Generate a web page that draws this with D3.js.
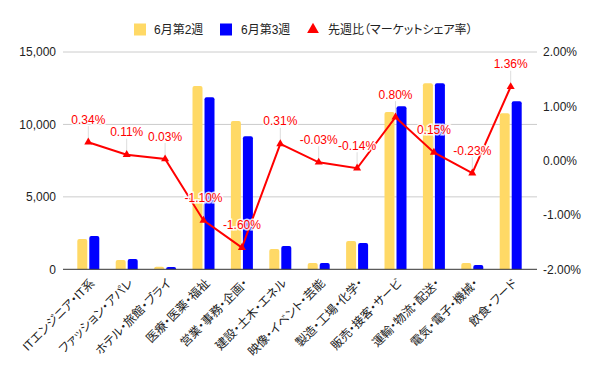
<!DOCTYPE html>
<html>
<head>
<meta charset="utf-8">
<script src="https://cdn.jsdelivr.net/npm/d3@7"></script>
<style>
  body { margin: 0; background: #fff; }
  svg { font-family: "Liberation Sans", Arial, "Noto Sans CJK JP", sans-serif; font-feature-settings: "palt"; }
</style>
</head>
<body>
<div id="chart"></div>
<script>
// categories
const categories = [
    'ITエンジニア・IT系', 'ファッション・アパレ', 'ホテル・旅館・ブライ', '医療・医薬・福祉',
    '営業・事務・企画・', '建設・土木・エネル', '映像・イベント・芸能', '製造・工場・化学・',
    '販売・接客・サービ', '運輸・物流・配送・', '電気・電子・機械・', '飲食・フード'
];

// series values
const week2 = [2090, 640, 170, 12660, 10230, 1400, 435, 1950, 10850, 12850, 430, 10780];
const week3 = [2300, 710, 160, 11880, 9190, 1610, 430, 1810, 11260, 12850, 300, 11600];
const shareChange = [0.34, 0.11, 0.03, -1.10, -1.60, 0.31, -0.03, -0.14, 0.80, 0.15, -0.23, 1.36];

// tick labels
const leftTicks = [0, 5000, 10000, 15000];
const rightTicks = [-2, -1, 0, 1, 2];

const seriesNames = ['6月第2週', '6月第3週', '先週比（マーケットシェア率）'];

const width = 600;
const height = 371;
const plot = { left: 63, right: 537, top: 52, bottom: 269.3 };

const colorWeek2 = '#ffd966';
const colorWeek3 = '#0000ff';
const colorLine = '#ff0000';

const svg = d3.select('#chart')
    .append('svg')
    .attr('width', width)
    .attr('height', height);

// Scales
const x = d3.scaleBand().domain(categories).range([69.1, 529.9]);
const yLeft = d3.scaleLinear().domain([0, 15000]).range([plot.bottom, plot.top]);
const yRight = d3.scaleLinear().domain([-2, 2]).range([plot.bottom, plot.top]);

// Grid lines
svg.append('g')
    .selectAll('line')
    .data(leftTicks.filter(d => d > 0))
    .join('line')
    .attr('x1', plot.left).attr('x2', plot.right)
    .attr('y1', d => yLeft(d)).attr('y2', d => yLeft(d))
    .attr('stroke', '#cccccc').attr('stroke-width', 1);

// Left axis
const leftAxis = svg.append('g')
    .attr('transform', `translate(${plot.left},0)`)
    .call(d3.axisLeft(yLeft).tickValues(leftTicks).tickSize(0).tickPadding(7).tickFormat(d3.format(',')));
leftAxis.select('.domain').remove();
leftAxis.selectAll('text').attr('font-size', 12).attr('fill', '#222');

// Right axis
const rightAxis = svg.append('g')
    .attr('transform', `translate(${plot.right},0)`)
    .call(d3.axisRight(yRight).tickValues(rightTicks).tickSize(0).tickPadding(6).tickFormat(d => d.toFixed(2) + '%'));
rightAxis.select('.domain').remove();
rightAxis.selectAll('text').attr('font-size', 12).attr('fill', '#222');

// Bars
const barW = 10;
const gap = 2;
const barPath = (x0, y0, w, h, r) => {
    r = Math.min(r, h, w / 2);
    return `M${x0},${y0 + h}V${y0 + r}Q${x0},${y0} ${x0 + r},${y0}H${x0 + w - r}Q${x0 + w},${y0} ${x0 + w},${y0 + r}V${y0 + h}Z`;
};
const bars = svg.append('g');
[[week2, colorWeek2, -1], [week3, colorWeek3, 1]].forEach(([vals, color, side]) => {
    bars.selectAll(null)
        .data(vals)
        .join('path')
        .attr('fill', color)
        .attr('d', (d, i) => {
            const cx = x(categories[i]) + x.bandwidth() / 2;
            const x0 = side < 0 ? cx - gap / 2 - barW : cx + gap / 2;
            const y0 = yLeft(d);
            return barPath(x0, y0, barW, plot.bottom - y0, 2);
        });
});

// Baseline
svg.append('line')
    .attr('x1', plot.left).attr('x2', plot.right)
    .attr('y1', plot.bottom).attr('y2', plot.bottom)
    .attr('stroke', '#333').attr('stroke-width', 1);

// X labels
svg.append('g')
    .selectAll('text')
    .data(categories)
    .join('text')
    .attr('transform', d => `translate(${x(d) + x.bandwidth() / 2 + 4},281) rotate(-45)`)
    .attr('text-anchor', 'end')
    .attr('dy', '0.35em')
    .attr('font-size', 12)
    .attr('fill', '#222')
    .text(d => d);

// Line series
const cxOf = i => x(categories[i]) + x.bandwidth() / 2;
const line = d3.line()
    .x((d, i) => cxOf(i))
    .y(d => yRight(d));

// annotation stems
svg.append('g')
    .selectAll('line')
    .data(shareChange)
    .join('line')
    .attr('x1', (d, i) => cxOf(i)).attr('x2', (d, i) => cxOf(i))
    .attr('y1', d => yRight(d)).attr('y2', d => yRight(d) - 16)
    .attr('stroke', '#dddddd').attr('stroke-width', 1);

svg.append('path')
    .datum(shareChange)
    .attr('fill', 'none')
    .attr('stroke', colorLine)
    .attr('stroke-width', 2)
    .attr('d', line);

const tri = d3.symbol().type(d3.symbolTriangle).size(28);
svg.append('g')
    .selectAll('path')
    .data(shareChange)
    .join('path')
    .attr('transform', (d, i) => `translate(${cxOf(i)},${yRight(d)})`)
    .attr('d', tri)
    .attr('fill', colorLine);

// annotations
svg.append('g')
    .selectAll('text')
    .data(shareChange)
    .join('text')
    .attr('x', (d, i) => cxOf(i))
    .attr('y', d => yRight(d) - 18.5)
    .attr('text-anchor', 'middle')
    .attr('font-size', 12)
    .attr('fill', colorLine)
    .attr('stroke', '#fff')
    .attr('stroke-width', 3)
    .attr('stroke-opacity', 0.85)
    .attr('paint-order', 'stroke')
    .text(d => d.toFixed(2) + '%');

// Legend
const legend = svg.append('g').attr('font-size', 12).attr('fill', '#222');
const legendY = 29.5;
legend.append('rect').attr('x', 134).attr('y', legendY - 6).attr('width', 12).attr('height', 12).attr('fill', colorWeek2);
legend.append('text').attr('x', 154).attr('y', legendY).attr('dy', '0.35em').text(seriesNames[0]);
legend.append('rect').attr('x', 220).attr('y', legendY - 6).attr('width', 12).attr('height', 12).attr('fill', colorWeek3);
legend.append('text').attr('x', 241).attr('y', legendY).attr('dy', '0.35em').text(seriesNames[1]);
legend.append('path')
    .attr('transform', `translate(313,${legendY})`)
    .attr('d', d3.symbol().type(d3.symbolTriangle).size(60))
    .attr('fill', colorLine);
legend.append('text').attr('x', 328).attr('y', legendY).attr('dy', '0.35em').text(seriesNames[2]);
</script>
</body>
</html>
